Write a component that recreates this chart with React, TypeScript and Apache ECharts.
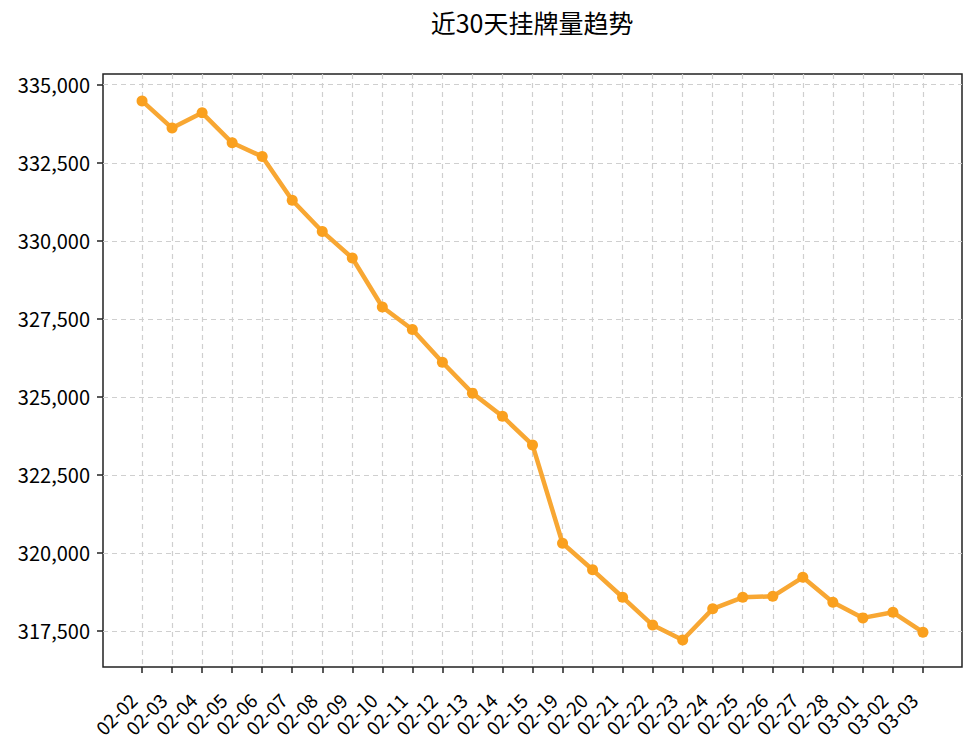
import React, { useEffect, useRef } from "react";
import * as echarts from "echarts";

const categories = [
  "02-02", "02-03", "02-04", "02-05", "02-06", "02-07", "02-08", "02-09", "02-10",
  "02-11", "02-12", "02-13", "02-14", "02-15", "02-19", "02-20", "02-21", "02-22",
  "02-23", "02-24", "02-25", "02-26", "02-27", "02-28", "03-01", "03-02", "03-03",
];

const listings = [
  334480, 333610, 334100, 333140, 332700, 331300, 330300, 329450, 327880,
  327160, 326110, 325120, 324380, 323460, 320310, 319460, 318580, 317690,
  317210, 318210, 318580, 318610, 319220, 318420, 317920, 318100, 317460,
];

const yTicks = [317500, 320000, 322500, 325000, 327500, 330000, 332500, 335000];

const titleText = "近30天挂牌量趋势";

const FONT = "'Noto Sans CJK SC', 'Noto Sans', sans-serif";

export default function App() {
  const ref = useRef<HTMLDivElement>(null);

  useEffect(() => {
    document.body.style.margin = "0";
    if (!ref.current) return;
    const chart = echarts.init(ref.current, null, { renderer: "svg" });

    const dMin = Math.min(...listings);
    const dMax = Math.max(...listings);
    const span = dMax - dMin;
    const yMin = dMin - span * 0.05;
    const yMax = dMax + span * 0.05;
    const n = categories.length;
    const xPad = (n - 1) * 0.05;
    const xIdx = categories.map((_, i) => i);

    chart.setOption({
      animation: false,
      backgroundColor: "#ffffff",
      graphic: [
        {
          type: "text",
          x: 532,
          y: 9,
          style: {
            text: titleText,
            textAlign: "center",
            fontSize: 25,
            fontFamily: FONT,
            fill: "#000",
          },
        },
      ],
      grid: {
        left: 103,
        top: 74,
        width: 859,
        height: 593,
        show: true,
        borderColor: "#222",
        borderWidth: 1.5,
        backgroundColor: "transparent",
      },
      xAxis: {
        type: "value",
        min: -xPad,
        max: n - 1 + xPad,
        axisLine: { show: false, onZero: false },
        axisTick: {
          show: true,
          customValues: xIdx,
          length: 6,
          lineStyle: { color: "#222", width: 1.5 },
        },
        axisLabel: {
          customValues: xIdx,
          rotate: 45,
          margin: 20,
          padding: [0, 13, 0, 0],
          fontSize: 19,
          fontFamily: FONT,
          color: "#000",
          formatter: (v: number) => categories[Math.round(v)] ?? "",
        },
        splitLine: {
          show: true,
          lineStyle: { color: "#cfcfcf", type: [5, 4], width: 1.2 },
        },
      },
      yAxis: {
        type: "value",
        min: yMin,
        max: yMax,
        axisLine: { show: false, onZero: false },
        axisTick: {
          show: true,
          customValues: yTicks,
          length: 6,
          lineStyle: { color: "#222", width: 1.5 },
        },
        axisLabel: {
          customValues: yTicks,
          margin: 13,
          fontSize: 20,
          fontFamily: FONT,
          color: "#000",
          formatter: (v: number) => Math.round(v).toLocaleString("en-US"),
        },
        splitLine: {
          show: true,
          lineStyle: { color: "#cfcfcf", type: [5, 4], width: 1.2 },
        },
      },
      series: [
        {
          type: "line",
          data: listings.map((v, i) => [i, v]),
          symbol: "circle",
          symbolSize: 11,
          lineStyle: { color: "#F8A733", width: 4.5 },
          itemStyle: { color: "#FAA01E" },
          z: 3,
        },
      ],
    });

    return () => chart.dispose();
  }, []);

  return <div ref={ref} style={{ width: 975, height: 750 }} />;
}
